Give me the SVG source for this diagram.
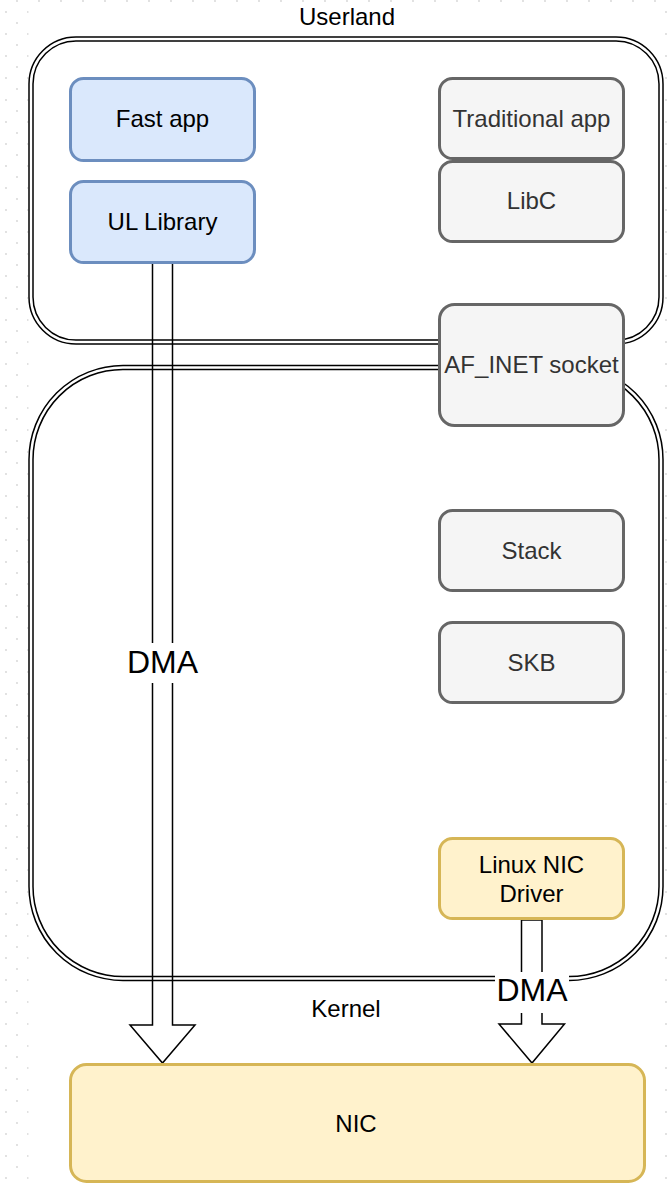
<svg xmlns="http://www.w3.org/2000/svg" width="671" height="1184" viewBox="0 0 671 1184">
  <defs>
    <pattern id="grid" width="22" height="22" patternUnits="userSpaceOnUse">
      <circle cx="6" cy="12" r="0.9" fill="#d4d4d4"/>
      <circle cx="17" cy="1" r="0.9" fill="#d4d4d4"/>
    </pattern>
    <style>
      .lbl { font-family: "Liberation Sans", Arial, Helvetica, sans-serif; font-size: 24px; text-anchor: middle; fill: #000000; }
      .dma { font-family: "Liberation Sans", Arial, Helvetica, sans-serif; font-size: 32px; text-anchor: middle; fill: #000000; }
      .outer { fill: #ffffff; stroke: #000000; stroke-width: 5.5; }
      .inner { fill: none; stroke: #ffffff; stroke-width: 2.5; }
      .blue rect { fill: #dae8fc; stroke: #6c8ebf; stroke-width: 3; }
      .gray rect { fill: #f5f5f5; stroke: #666666; stroke-width: 3; }
      .gray text { fill: #333333; }
      .yellow rect { fill: #fff2cc; stroke: #d6b656; stroke-width: 3; }
      .flex { fill: none; stroke: #000000; stroke-width: 1.5; stroke-linejoin: miter; }
    </style>
  </defs>

  <!-- canvas: dotted grid around a white page -->
  <rect x="0" y="0" width="671" height="1184" fill="#ffffff"/>
  <rect x="0" y="0" width="671" height="1184" fill="url(#grid)"/>
  <rect x="28.5" y="4" width="636.5" height="1180" fill="#ffffff"/>

  <!-- containers (double outline) -->
  <g id="userland">
    <rect class="outer" x="31" y="39" width="630" height="303" rx="45" ry="45"/>
    <rect class="inner" x="31" y="39" width="630" height="303" rx="45" ry="45"/>
    <text class="lbl" x="347" y="25">Userland</text>
  </g>
  <g id="kernel">
    <rect class="outer" x="31" y="367.5" width="630" height="611" rx="92" ry="92"/>
    <rect class="inner" x="31" y="367.5" width="630" height="611" rx="92" ry="92"/>
    <text class="lbl" x="346" y="1017">Kernel</text>
  </g>

  <!-- connectors: hollow DMA arrows -->
  <g id="connectors">
    <path class="flex" d="M152.5 263 V1025 H130 L162.5 1063 L195 1025 H172.5 V263 Z"/>
    <path class="flex" d="M521.5 920 V1024 H499 L532 1063 L564.5 1024 H542 V920 Z"/>
  </g>

  <!-- nodes -->
  <g id="fast-app" class="blue">
    <rect x="70.5" y="78.5" width="184" height="82" rx="13"/>
    <text class="lbl" x="162.5" y="127">Fast app</text>
  </g>
  <g id="ul-library" class="blue">
    <rect x="70.5" y="181.5" width="184" height="81" rx="13"/>
    <text class="lbl" x="162.5" y="230">UL Library</text>
  </g>
  <g id="traditional-app" class="gray">
    <rect x="439.5" y="78.5" width="184" height="80" rx="13"/>
    <text class="lbl" x="531.5" y="127">Traditional app</text>
  </g>
  <g id="libc" class="gray">
    <rect x="439.5" y="161.5" width="184" height="80" rx="13"/>
    <text class="lbl" x="531.5" y="209">LibC</text>
  </g>
  <g id="af-inet-socket" class="gray">
    <rect x="439.5" y="304.5" width="184" height="121" rx="15"/>
    <text class="lbl" x="531.5" y="373">AF_INET socket</text>
  </g>
  <g id="stack" class="gray">
    <rect x="439.5" y="510.5" width="184" height="80" rx="13"/>
    <text class="lbl" x="531.5" y="559">Stack</text>
  </g>
  <g id="skb" class="gray">
    <rect x="439.5" y="622.5" width="184" height="80" rx="13"/>
    <text class="lbl" x="531.5" y="671">SKB</text>
  </g>
  <g id="linux-nic-driver" class="yellow">
    <rect x="439.5" y="838.5" width="184" height="80" rx="13"/>
    <text class="lbl" x="531.5" y="873">Linux NIC</text>
    <text class="lbl" x="531.5" y="902">Driver</text>
  </g>
  <g id="nic" class="yellow">
    <rect x="70.5" y="1064.5" width="574" height="117" rx="16"/>
    <text class="lbl" x="356" y="1132">NIC</text>
  </g>

  <!-- connector labels -->
  <g id="dma-labels">
    <rect x="125" y="643" width="75" height="40" fill="#ffffff"/>
    <text class="dma" x="162.5" y="673">DMA</text>
    <rect x="495" y="972" width="74" height="41" fill="#ffffff"/>
    <text class="dma" x="532" y="1001">DMA</text>
  </g>
</svg>
